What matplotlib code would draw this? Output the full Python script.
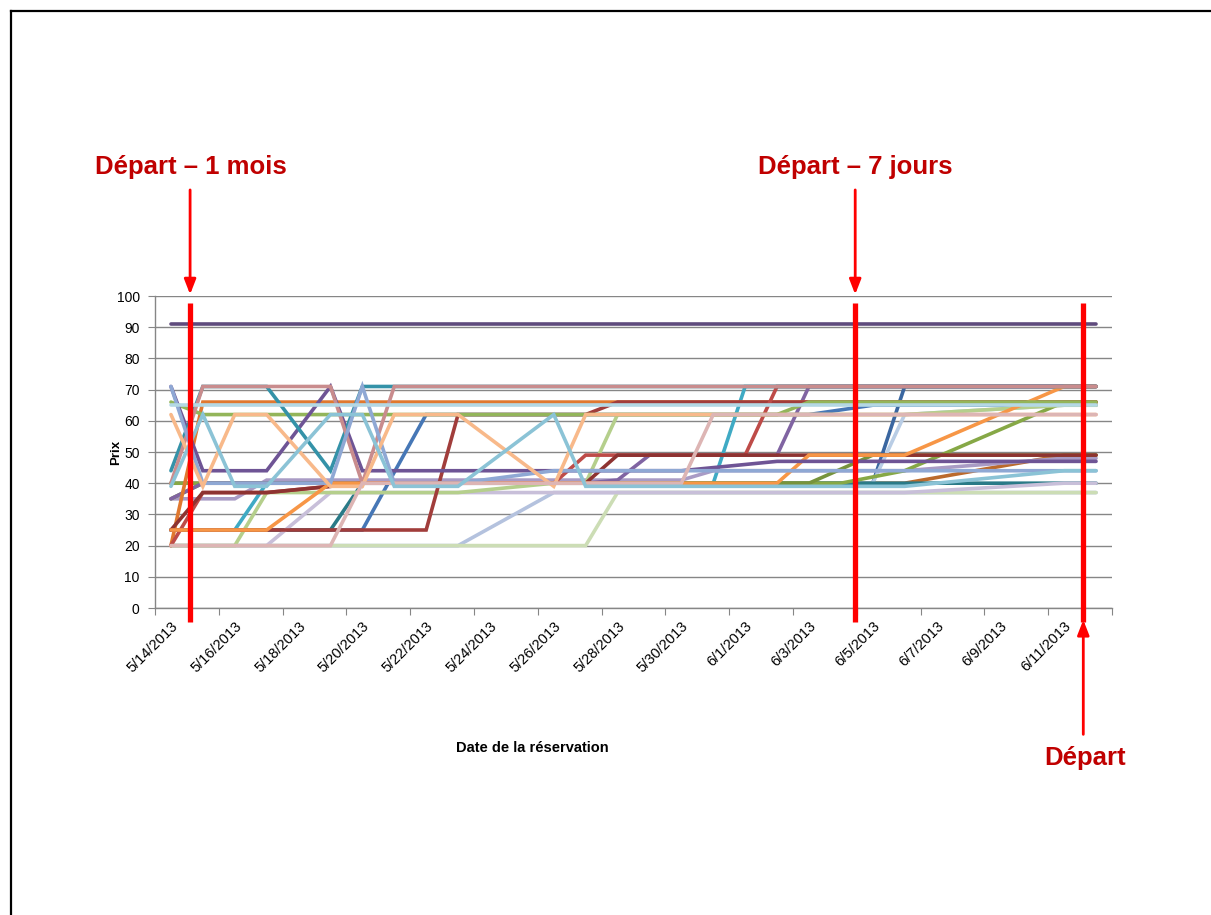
#!/usr/bin/env python3
"""
Prix observés par date de réservation (5/14/2013 -> 6/12/2013), une ligne
par offre, avec les repères Départ - 1 mois, Départ - 7 jours et Départ.
"""

import matplotlib
matplotlib.use("Agg")
import matplotlib.pyplot as plt
from matplotlib.lines import Line2D
import numpy as np

plt.rcParams["font.family"] = ["Liberation Sans", "DejaVu Sans"]

N = None

# 30 jours de réservation, un point par jour (None = pas de relevé)
DATES = [
    "5/14/2013", "5/15/2013", "5/16/2013", "5/17/2013", "5/18/2013", "5/19/2013",
    "5/20/2013", "5/21/2013", "5/22/2013", "5/23/2013", "5/24/2013", "5/25/2013",
    "5/26/2013", "5/27/2013", "5/28/2013", "5/29/2013", "5/30/2013", "5/31/2013",
    "6/1/2013", "6/2/2013", "6/3/2013", "6/4/2013", "6/5/2013", "6/6/2013",
    "6/7/2013", "6/8/2013", "6/9/2013", "6/10/2013", "6/11/2013", "6/12/2013",
]

bleu = [25, 25, 25, 25, 25, 25, 25, N, 62, 62, 62, 62, 62, 62, 62,
        62, 62, 62, 62, 62, 62, N, 65, 65, 65, 65, 65, 65, 65, 65]
bleu_fonce = [40, 40, 40, 40, 40, 40, 40, 40, 40, 40, 40, 40, 40, 40, 40,
              40, 40, 40, 40, 40, 40, 40, 40, 71, 71, 71, 71, 71, 71, 71]
brun = [40, 40, 40, 40, 40, 40, 40, 40, 40, 40, 40, 40, 40, 40, 40,
        40, 40, 40, 40, 40, 40, 40, 40, 40, N, N, N, N, 49, 49]
bleu_gris_clair = [40, 40, 40, 40, 40, 40, 40, 40, 40, 40, 40, 40, 40, 40, 40,
                   40, 40, 40, 40, 40, 40, 40, 40, 62, N, N, N, N, 65, 65]
sarcelle_fonce = [25, 25, 25, 25, 25, 25, 40, 40, 40, 40, 40, 40, 40, 40, 40,
                  40, 40, 40, 40, 40, 40, 40, 40, 40, 40, 40, 40, 40, 40, 40]
turquoise = [25, 25, 25, 40, 40, 40, 40, 40, 40, 40, 40, 40, 40, 40, 40,
             40, 40, 40, 71, 71, 71, 71, 71, 71, 71, 71, 71, 71, 71, 71]
lavande_bleue = [20, 20, 20, 20, 20, 20, 20, 20, 20, 20, N, N, 37, 37, 37,
                 37, 37, 37, 37, 37, 37, 37, 37, 37, 37, 37, 37, 37, 37, 37]
vert_pale = [20, 20, 20, 20, 20, 20, 20, 20, 20, 20, 20, 20, 20, 20, 37,
             37, 37, 37, 37, 37, 37, 37, 37, 37, 37, 37, 37, 37, 37, 37]
lavande = [20, 20, 20, 20, N, 37, 37, 37, 37, 37, 37, 37, 37, 37, 37,
           37, 37, 37, 37, 37, 37, 37, 37, 37, N, N, N, N, 40, 40]
lilas = [35, 35, 35, 41, 41, 41, 41, 41, 41, 41, 41, 41, 41, 41, 41,
         41, 41, 44, 44, 44, 44, 44, 44, 44, N, N, N, N, 48, 48]
vert_2 = [40, 40, 40, 40, 40, 40, 40, 40, 40, 40, 40, 40, 40, 40, 40,
          40, 40, 40, 40, 40, 40, 40, N, 44, N, N, N, N, 66, 66]
olive = [35, 40, 40, 40, 40, 40, 40, 40, 40, 40, 40, 40, 40, 40, 40,
         40, 40, 40, 40, 40, 40, N, 49, 49, 49, 49, 49, 49, 49, 49]
violet = [35, 40, 40, 40, 40, 40, 40, 40, 40, 40, 40, 40, 40, 40, 41,
          49, 49, 49, 49, 49, 71, 71, 71, 71, 71, 71, 71, 71, 71, 71]
vert_clair = [20, 20, 20, 37, 37, 37, 37, 37, 37, 37, N, N, 40, 40, 62,
              62, 62, 62, 62, 62, 62, 62, 62, 62, N, N, N, N, 65, 65]
orange_fonce = [20, 66, 66, 66, 66, 66, 66, 66, 66, 66, 66, 66, 66, 66, 66,
                66, 66, 66, 66, 66, 66, 66, 66, 66, 66, 66, 66, 66, 66, 66]
rouge_fonce = [25, 25, 25, 25, 25, 25, 25, 25, 25, 62, 62, 62, 62, 62, 66,
               66, 66, 66, 66, 66, 66, 66, 66, 66, 66, 66, 66, 66, 66, 66]
rouge = [20, 37, 37, 37, N, N, 40, 40, 40, 40, 40, 40, 40, 49, 49,
         49, 49, 49, 49, 71, 71, 71, 71, 71, 71, 71, 71, 71, 71, 71]
bordeaux = [25, 37, 37, 37, N, N, 40, 40, 40, 40, 40, 40, 40, 40, 49,
            49, 49, 49, 49, 49, 49, 49, 49, 49, 49, 49, 49, 49, 49, 49]
orange = [25, 25, 25, 25, N, 40, 40, 40, 40, 40, 40, 40, 40, 40, 40,
          40, 40, 40, 40, 40, 49, 49, 49, 49, N, N, N, N, 71, 71]
vert = [66, 62, 62, 62, 62, 62, 62, 62, 62, 62, 62, 62, 62, 62, 62,
        62, 62, 62, 62, 62, 66, 66, 66, 66, 66, 66, 66, 66, 66, 66]
violet_44 = [71, 44, 44, 44, N, 71, 44, 44, 44, 44, 44, 44, 44, 44, 44,
             44, 44, N, N, 47, 47, 47, 47, 47, 47, 47, 47, 47, 47, 47]
sarcelle = [44, 71, 71, 71, N, 44, 71, 71, 71, 71, 71, 71, 71, 71, 71,
            71, 71, 71, 71, 71, 71, 71, 71, 71, 71, 71, 71, 71, 71, 71]
vieux_rose = [40, 71, 71, 71, 71, 71, 40, 71, 71, 71, 71, 71, 71, 71, 71,
              71, 71, 71, 71, 71, 71, 71, 71, 71, 71, 71, 71, 71, 71, 71]
bleu_gris = [71, 40, 40, 40, 40, 40, 71, 40, 40, 40, N, N, 44, 44, 44,
             44, 44, 44, 44, 44, 44, 44, 44, 44, 44, 44, 44, 44, 44, 44]
peche = [62, 39, 62, 62, N, 39, 39, 62, 62, 62, N, N, 39, 62, 62,
         62, 62, 62, 62, 62, 62, 62, 62, 62, 62, 62, 62, 62, 62, 62]
rose_pale = [20, 20, 20, 20, 20, 20, 40, 40, 40, 40, 40, 40, 40, 40, 40,
             40, 40, 62, 62, 62, 62, 62, 62, 62, 62, 62, 62, 62, 62, 62]
bleu_ciel = [39, 62, 39, 39, N, 62, 62, 39, 39, 39, N, N, 62, 39, 39,
             39, 39, 39, 39, 39, 39, 39, 39, 39, N, N, N, N, 44, 44]
ciel_65 = [65, 65, 65, 65, 65, 65, 65, 65, 65, 65, 65, 65, 65, 65, 65,
           65, 65, 65, 65, 65, 65, 65, 65, 65, 65, 65, 65, 65, 65, 65]
violet_91 = [91, 91, 91, 91, 91, 91, 91, 91, 91, 91, 91, 91, 91, 91, 91,
             91, 91, 91, 91, 91, 91, 91, 91, 91, 91, 91, 91, 91, 91, 91]

# ordre de tracé = ordre Excel (la dernière série passe au-dessus)
SERIES = [
    (bleu, "#4677B6"), (bleu_fonce, "#3A66A0"), (brun, "#BB6A2C"),
    (bleu_gris_clair, "#B9CDE5"), (sarcelle_fonce, "#2A7A87"),
    (turquoise, "#3FAAC4"), (lavande_bleue, "#B4C2DE"), (vert_pale, "#CCDDB5"),
    (lavande, "#C8BFD9"), (lilas, "#A99BC5"), (vert_2, "#86A846"),
    (olive, "#77933C"), (violet, "#8064A2"), (vert_clair, "#B5CF8C"),
    (orange_fonce, "#E0782F"), (rouge_fonce, "#A13D3B"), (rouge, "#BE4B48"),
    (bordeaux, "#8E3331"), (orange, "#F79646"), (vert, "#93B55A"),
    (violet_44, "#6E5495"), (sarcelle, "#3492A8"), (vieux_rose, "#C98C8D"),
    (bleu_gris, "#8FA8D4"), (peche, "#F8B98A"), (rose_pale, "#DDB5B4"),
    (bleu_ciel, "#8BC3D6"), (ciel_65, "#B4D8E4"), (violet_91, "#5F4B7D"),
]

Y_TICKS = [0, 10, 20, 30, 40, 50, 60, 70, 80, 90, 100]

# repères (Départ - 1 mois, Départ - 7 jours, Départ), en jours
REPERES = [0.6, 21.45, 28.6]

W, H = 1211, 915
RED_TXT = "#C00000"
GRID = "#868686"


def fx(px):
    return px / W


def fy(py):
    return 1 - py / H


def main():
    fig = plt.figure(figsize=(W / 100, H / 100), dpi=100)
    fig.patch.set_facecolor("white")

    # cadre noir (haut et gauche)
    fig.add_artist(Line2D([fx(11), fx(11)], [fy(11), 0], color="black", lw=1.6))
    fig.add_artist(Line2D([fx(11), 1], [fy(11), fy(11)], color="black", lw=1.6))

    ax = fig.add_axes([fx(155), fy(608), fx(1112) - fx(155), fy(296) - fy(608)])

    x = np.arange(len(DATES))
    for values, color in SERIES:
        v = np.array([np.nan if a is None else a for a in values], dtype=float)
        m = ~np.isnan(v)
        ax.plot(x[m], v[m], color=color, lw=2.6, solid_capstyle="round",
                solid_joinstyle="miter", zorder=3)

    ax.set_xlim(-0.5, len(DATES) - 0.5)
    ax.set_ylim(0, 100)
    ax.set_yticks(Y_TICKS)
    ax.yaxis.grid(True, color=GRID, lw=1.0)
    ax.set_axisbelow(True)

    ax.set_xticks(np.arange(-0.5, len(DATES), 2))
    ax.set_xticklabels([])
    ax.set_xticks(x[::2], minor=True)
    ax.set_xticklabels(DATES[::2], minor=True, rotation=45, ha="right",
                       va="top", rotation_mode="anchor", fontsize=10.5)
    ax.tick_params(axis="x", which="major", length=5, color=GRID, direction="out")
    ax.tick_params(axis="x", which="minor", length=0, pad=8)
    ax.tick_params(axis="y", length=5, color=GRID, labelsize=10, pad=6)

    for side in ("top", "right"):
        ax.spines[side].set_visible(False)
    for side in ("left", "bottom"):
        ax.spines[side].set_color(GRID)
        ax.spines[side].set_linewidth(1.0)

    fig.text(fx(116), fy(452), "Prix", rotation=90, ha="center", va="center",
             fontsize=9.5, fontweight="bold")
    fig.text(fx(532), fy(748), "Date de la réservation", ha="center",
             va="center", fontsize=10.5, fontweight="bold")

    # repères rouges
    for xr in REPERES:
        ax.plot([xr, xr], [97.8, -4.5], color="#FF0000", lw=3.8,
                solid_capstyle="butt", clip_on=False, zorder=5)

    arrow = dict(arrowstyle="-|>,head_length=0.9,head_width=0.35",
                 color="#FF0000", lw=2.0, shrinkA=0, shrinkB=0)
    ax.annotate("", xy=(REPERES[0], 100.5), xytext=(REPERES[0], 134),
                arrowprops=arrow, annotation_clip=False)
    ax.annotate("", xy=(REPERES[1], 100.5), xytext=(REPERES[1], 134),
                arrowprops=arrow, annotation_clip=False)
    ax.annotate("", xy=(REPERES[2], -3.8), xytext=(REPERES[2], -40.5),
                arrowprops=arrow, annotation_clip=False)

    fig.text(fx(191), fy(167), "Départ – 1 mois", ha="center", va="center",
             color=RED_TXT, fontsize=18.5, fontweight="bold")
    fig.text(fx(855), fy(167), "Départ – 7 jours", ha="center", va="center",
             color=RED_TXT, fontsize=18.5, fontweight="bold")
    fig.text(fx(1085), fy(758), "Départ", ha="center", va="center",
             color=RED_TXT, fontsize=18.5, fontweight="bold")

    fig.savefig("out.png", dpi=100)
    plt.close(fig)


if __name__ == "__main__":
    main()
